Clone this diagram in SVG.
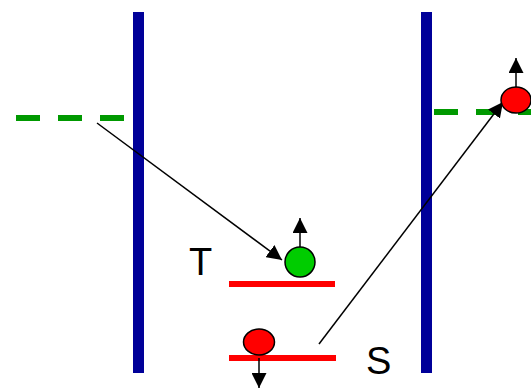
<svg xmlns="http://www.w3.org/2000/svg" width="531" height="389" viewBox="0 0 531 389">
<style>
.bar{fill:#000099}
.dash{stroke:#009900;stroke-width:6;stroke-dasharray:24 18;fill:none}
.lvl{stroke:#ff0000;stroke-width:6;fill:none}
.con{stroke:#000;stroke-width:1.5;fill:none}
.lbl{font-family:"Liberation Sans",Arial,sans-serif;font-size:38px;fill:#000}
.dot{stroke:#000;stroke-width:1.5}
</style>
<defs>
<marker id="ah" viewBox="0 0 10 10" refX="10" refY="5" markerWidth="10" markerHeight="10" markerUnits="userSpaceOnUse" orient="auto">
<path d="M0,0 L10,5 L0,10 z" fill="#000"/>
</marker>
<marker id="ahb" viewBox="0 0 10 10" refX="10" refY="5" markerWidth="15" markerHeight="15" markerUnits="userSpaceOnUse" orient="auto">
<path d="M0,0 L10,5 L0,10 z" fill="#000"/>
</marker>
</defs>
<rect width="531" height="389" fill="#fff"/>
<g id="barrier-left"><rect class="bar" x="133" y="12" width="11" height="361"/></g>
<g id="barrier-right"><rect class="bar" x="421" y="12" width="11" height="361"/></g>
<g id="level-left"><line class="dash" x1="16" y1="118" x2="133" y2="118"/></g>
<g id="level-right"><line class="dash" x1="434" y1="112" x2="531" y2="112"/></g>
<g id="level-T"><line class="lvl" x1="229" y1="284" x2="335" y2="284"/><text class="lbl" x="189" y="275">T</text></g>
<g id="level-S"><line class="lvl" x1="229" y1="358" x2="336" y2="358"/><text class="lbl" x="366" y="374">S</text></g>
<g id="connectors">
<line class="con" x1="97" y1="123" x2="282" y2="260" marker-end="url(#ahb)"/>
<line class="con" x1="319" y1="344" x2="503" y2="102" marker-end="url(#ahb)"/>
<line class="con" x1="300" y1="247" x2="300" y2="218" marker-end="url(#ahb)"/>
<line class="con" x1="516" y1="87" x2="516" y2="58" marker-end="url(#ahb)"/>
<line class="con" x1="259" y1="358" x2="259" y2="388" marker-end="url(#ahb)"/>
</g>
<g id="particle-T"><circle class="dot" cx="300" cy="262" r="15" fill="#00cc00"/></g>
<g id="particle-S"><ellipse class="dot" cx="259" cy="342" rx="15.5" ry="13" fill="#ff0000"/></g>
<g id="particle-out"><ellipse class="dot" cx="516" cy="100" rx="15" ry="13" fill="#ff0000"/></g>
</svg>
